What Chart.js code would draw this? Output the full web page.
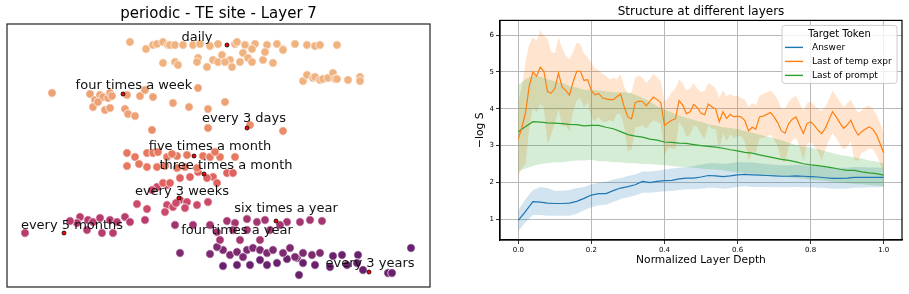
<!DOCTYPE html>
<html>
<head>
<meta charset="utf-8">
<script src="https://cdn.jsdelivr.net/npm/chart.js@4/dist/chart.umd.min.js"></script>
<style>
    body { margin: 0; background: #ffffff; }
    #leftBox { position: absolute; left: 0; top: 0; width: 455px; height: 294px; }
    #rightBox { position: absolute; left: 455px; top: 0; width: 454px; height: 294px; }
</style>
</head>
<body>
<div id="leftBox"><canvas id="leftChart"></canvas></div>
<div id="rightBox"><canvas id="rightChart"></canvas></div>
<script>
// ---------- left panel: 2D projection, positions ----------
const clusterNames = ['daily', 'four times a week', 'every 3 days', 'five times a month',
    'three times a month', 'every 3 weeks', 'every 5 months', 'six times a year',
    'four times a year', 'every 3 years'];

const dailyPts = [[130,42],[146,49],[153,45],[157,44],[163,42],[168,45],[170,45],[175,45],[183,45],[193,45],
    [200,44],[210,46],[218,44],[235,44],[237,42],[245,45],[255,44],[267,45],[277,44],[283,49],[295,44],[307,45],
    [315,46],[320,45],[337,45],[163,63],[175,62],[178,65],[198,58],[197,62],[207,67],[213,60],[218,62],[222,55],
    [230,60],[232,67],[240,62],[243,53],[248,58],[252,62],[263,60],[265,52],[273,63],[283,50],[303,81],[307,75],
    [313,78],[315,77],[320,80],[323,79],[328,78],[333,73],[335,79],[337,79],[348,80],[360,77],[360,81],[225,62],[252,49]];
const fourWeekPts = [[52,93],[90,94],[95,100],[100,95],[103,97],[108,98],[110,93],[127,95],[140,96],[145,90],
    [153,97],[93,107],[105,110],[110,108],[125,109],[128,114],[135,116],[173,103],[189,107],[198,88],[208,109],
    [225,102],[98,102],[112,96]];
const threeDayPts = [[152,130],[208,128],[250,125],[283,131]];
const fiveMonthPts = [[127,153],[135,157],[147,153],[153,153],[158,152],[167,157],[177,156],[187,155],[203,156],
    [210,157],[220,157],[235,157],[127,166],[139,164],[147,167],[157,167],[165,166],[177,168],[185,167],[197,168],
    [172,154],[215,152]];
const threeMonthPts = [[190,177],[180,178],[213,177],[227,173],[233,173],[217,183],[163,183],[170,183],[198,172],[207,178]];
const threeWeekPts = [[157,187],[167,185],[152,190],[180,200],[187,202],[197,205],[208,202],[167,205],[173,207],
    [185,208],[137,204],[147,209],[165,212],[176,203]];
const fiveMonthsPts = [[80,217],[88,220],[93,222],[110,220],[117,222],[125,217],[130,222],[77,223],[145,220],
    [25,233],[87,230],[102,233],[113,233],[100,218],[70,221]];
const sixYearPts = [[175,225],[193,225],[210,225],[227,221],[235,223],[247,219],[257,222],[265,220],[287,222],
    [310,220],[322,221],[247,230],[233,230],[217,232],[270,230],[220,240],[240,240],[260,240],[280,225],[300,222]];
const fourYearPts = [[180,253],[210,254],[223,250],[230,255],[237,252],[247,250],[253,248],[260,250],[267,253],
    [273,250],[283,253],[290,248],[295,257],[303,253],[312,255],[320,253],[243,257],[217,247]];
const threeYearPts = [[333,256],[342,255],[358,255],[411,248],[223,266],[237,265],[250,265],[260,260],[267,265],
    [277,263],[287,259],[297,258],[303,263],[315,265],[330,267],[347,265],[357,263],[363,270],[388,273],[392,273],[299,275]];

const clusterPoints = [dailyPts, fourWeekPts, threeDayPts, fiveMonthPts, threeMonthPts,
    threeWeekPts, fiveMonthsPts, sixYearPts, fourYearPts, threeYearPts];

// red marker for each named expression, and where its text sits
const anchorPts = [[227,45],[123,94],[247,128],[194,156],[204,174],[179,198],[64,233],[276,221],[369,272]];
const labelTexts = ['daily', 'four times a week', 'every 3 days', 'five times a month', 'three times a month',
    'every 3 weeks', 'six times a year', 'every 5 months', 'four times a year', 'every 3 years'];
const labelPos = [[197,38],[134,86],[244,119],[210,147],[226,166],[182,192],[286,209],[72,226],[237,231],[370,264]];

const clusterColors = ['#f0b27f', '#eda175', '#e98d68', '#e6785f', '#de6260',
    '#cc4a69', '#b83d6f', '#a3356f', '#7e2a70', '#6a216d'];

// ---------- right panel: -log S per normalized layer depth ----------
const depthFine = Array.from({length: 101}, (_, i) => i / 100);
const depthCoarse = Array.from({length: 51}, (_, i) => i / 50);

const tempMean = [3.18,3.5,3.9,4.62,5.0,4.88,5.13,5.02,4.47,4.42,
    4.55,4.97,4.59,4.5,4.37,4.73,5.02,5.02,4.77,4.79,
    4.5,4.38,4.42,4.3,4.27,4.25,4.25,4.33,4.4,4.05,
    3.78,3.73,4.17,4.21,4.2,4.08,4.2,4.32,4.25,4.17,
    3.55,3.62,3.69,3.73,4.22,4.1,3.87,3.92,4.12,4.03,
    3.88,3.84,4.13,4.05,4.0,3.65,3.92,3.74,3.85,3.78,
    3.8,3.78,3.68,3.4,3.5,3.45,3.78,3.8,3.85,3.9,
    3.78,3.62,3.4,3.34,3.6,3.72,3.78,3.55,3.33,3.6,
    3.65,3.55,3.42,3.33,3.47,3.7,3.92,3.78,3.62,3.47,
    3.56,3.69,3.45,3.29,3.38,3.45,3.51,3.45,3.3,3.06,
    2.8];
const tempUpper = [4.2,4.6,5.3,5.75,5.95,5.85,6.13,6.0,5.9,5.55,
    5.5,5.95,5.65,5.45,5.35,5.55,5.8,5.75,5.5,5.4,
    5.25,5.1,5.05,4.95,4.9,4.8,4.85,4.8,4.95,4.6,
    4.4,4.45,4.85,4.9,4.85,4.7,4.8,4.95,4.85,4.75,
    4.2,4.3,4.45,4.55,4.8,4.7,4.5,4.55,4.7,4.55,
    4.45,4.5,4.7,4.65,4.55,4.3,4.5,4.35,4.4,4.35,
    4.35,4.3,4.25,4.05,4.15,4.1,4.35,4.4,4.45,4.5,
    4.4,4.25,4.0,4.0,4.2,4.3,4.35,4.15,3.95,4.15,
    4.2,4.1,4.0,3.95,4.05,4.25,4.5,4.35,4.2,4.05,
    4.15,4.25,4.05,3.9,3.95,4.05,4.1,4.0,3.85,3.6,
    3.35];
const tempLower = [2.15,2.4,2.5,3.49,4.05,3.91,4.13,4.04,3.04,3.29,
    3.6,3.99,3.53,3.55,3.39,3.91,4.24,4.29,4.04,4.18,
    3.75,3.66,3.79,3.65,3.64,3.7,3.65,3.86,3.85,3.5,
    2.85,2.9,3.49,3.52,3.55,3.46,3.6,3.69,3.65,3.59,
    2.75,2.94,2.93,2.91,3.64,3.5,3.24,3.29,3.54,3.51,
    3.31,3.18,3.56,3.45,3.45,2.9,3.34,3.13,3.3,3.21,
    3.25,3.26,3.11,2.6,2.85,2.8,3.21,3.2,3.25,3.3,
    3.16,2.99,2.6,2.55,3.0,3.14,3.21,2.95,2.6,3.05,
    3.1,3.0,2.84,2.6,2.89,3.15,3.34,3.21,3.04,2.89,
    2.97,3.13,2.6,2.6,2.81,2.85,2.92,2.9,2.75,2.52,
    2.25];

const promptMean = [3.38,3.52,3.65,3.64,3.62,3.61,3.6,3.58,3.57,3.54,
    3.55,3.55,3.5,3.46,3.38,3.3,3.26,3.23,3.18,3.15,
    3.1,3.09,3.07,3.06,3.03,3.0,2.98,2.96,2.93,2.89,
    2.86,2.82,2.8,2.75,2.71,2.67,2.63,2.6,2.56,2.51,
    2.48,2.46,2.43,2.4,2.36,2.33,2.33,2.29,2.26,2.24,
    2.2];
const promptUpper = [4.65,4.8,4.9,4.88,4.8,4.75,4.7,4.62,4.58,4.52,
    4.52,4.5,4.48,4.45,4.45,4.45,4.38,4.3,4.2,4.08,
    3.98,3.9,3.82,3.76,3.7,3.65,3.58,3.55,3.5,3.48,
    3.45,3.4,3.35,3.3,3.25,3.2,3.15,3.08,3.02,2.98,
    2.95,2.9,2.85,2.8,2.75,2.72,2.68,2.65,2.6,2.57,
    2.52];
const promptLower = [2.3,2.38,2.45,2.5,2.52,2.55,2.55,2.58,2.6,2.6,
    2.62,2.58,2.58,2.55,2.55,2.52,2.52,2.5,2.5,2.48,
    2.47,2.45,2.43,2.42,2.4,2.38,2.36,2.35,2.33,2.3,
    2.28,2.26,2.24,2.22,2.2,2.18,2.16,2.14,2.12,2.1,
    2.08,2.06,2.04,2.02,2.0,1.98,1.96,1.95,1.93,1.92,
    1.9];

const answerMean = [0.97,1.22,1.48,1.47,1.44,1.43,1.43,1.44,1.49,1.57,
    1.66,1.7,1.7,1.78,1.85,1.89,1.94,2.03,2.0,2.03,
    2.05,2.06,2.1,2.12,2.12,2.15,2.19,2.18,2.16,2.18,
    2.21,2.22,2.21,2.2,2.19,2.18,2.17,2.17,2.18,2.17,
    2.16,2.15,2.13,2.11,2.11,2.12,2.14,2.14,2.14,2.14,
    2.14];
const answerUpper = [1.25,1.55,1.8,1.88,1.85,1.78,1.78,1.8,1.85,1.88,
    1.95,2.0,2.02,2.08,2.12,2.18,2.22,2.3,2.3,2.32,
    2.35,2.38,2.4,2.42,2.45,2.48,2.52,2.52,2.5,2.52,
    2.55,2.55,2.54,2.52,2.5,2.48,2.47,2.47,2.48,2.47,
    2.45,2.44,2.42,2.4,2.4,2.4,2.42,2.42,2.41,2.41,
    2.4];
const answerLower = [0.68,0.92,1.12,1.12,1.1,1.1,1.1,1.1,1.15,1.25,
    1.33,1.38,1.4,1.47,1.55,1.6,1.65,1.72,1.72,1.74,
    1.76,1.77,1.8,1.82,1.82,1.83,1.86,1.85,1.83,1.85,
    1.88,1.9,1.88,1.88,1.88,1.87,1.87,1.87,1.88,1.87,
    1.87,1.86,1.85,1.83,1.83,1.84,1.86,1.86,1.87,1.87,
    1.88];

const xTicks = [0, 0.2, 0.4, 0.6, 0.8, 1.0];
const yTicks = [1, 2, 3, 4, 5, 6];
const seriesNames = ['Answer', 'Last of temp expr', 'Last of prompt'];
const seriesColors = ['#1f77b4', '#ff7f0e', '#2ca02c'];
const bandColors = ['rgba(31,119,180,0.2)', 'rgba(255,127,14,0.2)', 'rgba(44,160,44,0.2)'];

const FONT = 'DejaVu Sans';
Chart.defaults.font.family = FONT;
Chart.defaults.color = '#000';

function toXY(xs, ys)
{
    return ys.map((v, i) => ({x: xs[i], y: v}));
}

// ---------- left chart ----------
var leftDatasets = [];

// Red markers go first so they sit on top
leftDatasets.push({
    data: anchorPts.map(p => ({x: p[0], y: p[1]})),
    backgroundColor: '#ff0000',
    borderColor: '#000000',
    borderWidth: 0.8,
    pointRadius: 2
});

clusterPoints.forEach((pts, i) => {
    leftDatasets.push({
        label: clusterNames[i],
        data: pts.map(p => ({x: p[0], y: p[1]})),
        backgroundColor: clusterColors[i],
        borderColor: '#ffffff',
        borderWidth: 0.7,
        pointRadius: 4.2
    });
});

const leftDecor = {
    id: 'leftDecor',
    afterDatasetsDraw(chart)
    {
        var ctx = chart.ctx;
        var xs = chart.scales.x;
        var ys = chart.scales.y;
        ctx.save();
        ctx.font = '13px ' + FONT;
        ctx.fillStyle = '#111';
        ctx.textAlign = 'center';
        ctx.textBaseline = 'middle';
        labelTexts.forEach((t, i) => {
            ctx.fillText(t, xs.getPixelForValue(labelPos[i][0]), ys.getPixelForValue(labelPos[i][1]));
        });
        ctx.restore();
    },
    afterDraw(chart)
    {
        var a = chart.chartArea;
        var ctx = chart.ctx;
        ctx.save();
        ctx.strokeStyle = '#222';
        ctx.lineWidth = 1.2;
        ctx.strokeRect(a.left, a.top, a.right - a.left, a.bottom - a.top);
        ctx.restore();
    }
};

new Chart(document.getElementById('leftChart'), {
    type: 'scatter',
    data: { datasets: leftDatasets },
    options: {
        responsive: true,
        maintainAspectRatio: false,
        animation: false,
        layout: { padding: { left: 7, right: 25, top: 0, bottom: 7 } },
        scales: {
            x: { type: 'linear', min: 7, max: 430, display: false },
            y: { type: 'linear', min: 24, max: 287, reverse: true, display: false }
        },
        plugins: {
            legend: { display: false },
            tooltip: { enabled: false },
            title: {
                display: true,
                text: 'periodic - TE site - Layer 7',
                fullSize: false,
                font: { size: 15, weight: 'normal' },
                color: '#000',
                padding: { top: 5, bottom: 1 }
            }
        }
    },
    plugins: [leftDecor]
});

// ---------- right chart ----------
var rightDatasets = [
    { label: seriesNames[0], data: toXY(depthCoarse, answerMean), borderColor: seriesColors[0], order: 0 },
    { label: seriesNames[1], data: toXY(depthFine, tempMean), borderColor: seriesColors[1], order: 0 },
    { label: seriesNames[2], data: toXY(depthCoarse, promptMean), borderColor: seriesColors[2], order: 0 },
    { data: toXY(depthCoarse, answerUpper), borderWidth: 0, order: 10 },
    { data: toXY(depthCoarse, answerLower), borderWidth: 0, fill: '-1', backgroundColor: bandColors[0], order: 10 },
    { data: toXY(depthFine, tempUpper), borderWidth: 0, order: 9 },
    { data: toXY(depthFine, tempLower), borderWidth: 0, fill: '-1', backgroundColor: bandColors[1], order: 9 },
    { data: toXY(depthCoarse, promptUpper), borderWidth: 0, order: 8 },
    { data: toXY(depthCoarse, promptLower), borderWidth: 0, fill: '-1', backgroundColor: bandColors[2], order: 8 }
];
rightDatasets.forEach(d => {
    d.pointRadius = 0;
    if (d.borderWidth === undefined) d.borderWidth = 1.2;
    if (d.fill === undefined) d.fill = false;
});

const rightDecor = {
    id: 'rightDecor',
    afterDraw(chart)
    {
        var a = chart.chartArea;
        var ctx = chart.ctx;
        ctx.save();
        // frame on all four sides
        ctx.strokeStyle = '#000';
        ctx.lineWidth = 1.2;
        ctx.strokeRect(a.left, a.top, a.right - a.left, a.bottom - a.top);

        // legend box in the upper right corner
        var w = 115, h = 58;
        var left = a.right - 5 - w;
        var top = a.top + 5;
        ctx.fillStyle = 'rgba(255,255,255,0.8)';
        ctx.strokeStyle = '#cccccc';
        ctx.lineWidth = 1;
        ctx.beginPath();
        ctx.roundRect(left, top, w, h, 3);
        ctx.fill();
        ctx.stroke();

        ctx.fillStyle = '#000';
        ctx.textBaseline = 'middle';
        ctx.textAlign = 'center';
        ctx.font = '10px ' + FONT;
        ctx.fillText('Target Token', left + w / 2, top + 9);

        ctx.textAlign = 'left';
        ctx.font = '9px ' + FONT;
        seriesNames.forEach((name, i) => {
            var y = top + 22 + i * 14;
            ctx.strokeStyle = seriesColors[i];
            ctx.lineWidth = 1.4;
            ctx.beginPath();
            ctx.moveTo(left + 3, y);
            ctx.lineTo(left + 21, y);
            ctx.stroke();
            ctx.fillText(name, left + 30, y);
        });
        ctx.restore();
    }
};

new Chart(document.getElementById('rightChart'), {
    type: 'line',
    data: { datasets: rightDatasets },
    options: {
        responsive: true,
        maintainAspectRatio: false,
        animation: false,
        layout: { padding: { left: 0, right: 7, top: 0, bottom: 0 } },
        scales: {
            x: {
                type: 'linear',
                min: -0.05,
                max: 1.05,
                afterBuildTicks: (scale) => { scale.ticks = xTicks.map(v => ({value: v})); },
                afterFit: (scale) => { scale.height = 54; },
                ticks: { font: { size: 7 }, padding: 2, maxRotation: 0, callback: (v) => v.toFixed(1) },
                grid: { color: '#b8b8b8', lineWidth: 1, tickLength: 4, tickColor: '#333' },
                border: { color: '#000', width: 1.2 },
                title: { display: true, text: 'Normalized Layer Depth', font: { size: 10.7 }, padding: { top: 2, bottom: 27 } }
            },
            y: {
                type: 'linear',
                min: 0.44,
                max: 6.4,
                afterBuildTicks: (scale) => { scale.ticks = yTicks.map(v => ({value: v})); },
                afterFit: (scale) => { scale.width = 45; },
                ticks: { font: { size: 7 }, padding: 2, callback: (v) => String(v) },
                grid: { color: '#b8b8b8', lineWidth: 1, tickLength: 4, tickColor: '#333' },
                border: { color: '#000', width: 1.2 },
                title: { display: true, text: '\u2212log S', font: { size: 10.7 }, padding: { top: 19, bottom: 0 } }
            }
        },
        plugins: {
            legend: { display: false },
            tooltip: { enabled: false },
            title: {
                display: true,
                text: 'Structure at different layers',
                fullSize: false,
                font: { size: 12, weight: 'normal' },
                color: '#000',
                padding: { top: 5, bottom: 1 }
            }
        }
    },
    plugins: [rightDecor]
});
</script>
</body>
</html>
